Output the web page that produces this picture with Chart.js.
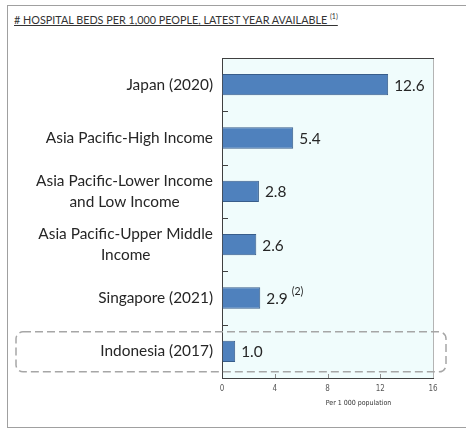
<!DOCTYPE html>
<html>
<head>
<meta charset="utf-8">
<script src="https://cdn.jsdelivr.net/npm/chart.js@4.4.1/dist/chart.umd.min.js"></script>
<style>
  html, body { margin: 0; padding: 0; background: #fff; }
  #wrap { position: relative; width: 466px; height: 428px; overflow: hidden; }
  #frame { position: absolute; left: 7px; top: 5px; width: 480px; height: 423px; border: 1px solid #a0a0a0; box-sizing: border-box; }
  #title { position: absolute; left: 14px; top: 12px; font: 10.8px Lato, sans-serif; color: #333; text-decoration: underline; white-space: nowrap; }
  #title sup { font-size: 7px; }
  canvas { position: absolute; left: 0; top: 0; }
</style>
</head>
<body>
<div id="wrap">
  <div id="frame"></div>
  <div id="title"># HOSPITAL BEDS PER 1,000 PEOPLE, LATEST YEAR AVAILABLE <sup>(1)</sup></div>
  <canvas id="myChart" width="466" height="428"></canvas>
</div>
<script>
// data
const categories = [
    ['Japan (2020)'],
    ['Asia Pacific-High Income'],
    ['Asia Pacific-Lower Income', 'and Low Income'],
    ['Asia Pacific-Upper Middle', 'Income'],
    ['Singapore (2021)'],
    ['Indonesia (2017)']
];
const bedsPer1000 = [12.6, 5.4, 2.8, 2.6, 2.9, 1.0];
const valueNotes = ['', '', '', '', '(2)', ''];
const xTicks = [0, 4, 8, 12, 16];
const xAxisTitle = 'Per 1 000 population';
const highlighted = 'Indonesia (2017)';

const labelFont = '15.4px Lato, sans-serif';
const narrowFont = 'Liberation Sans Narrow, DejaVu Sans Condensed, sans-serif';
const textColor = '#262626';

// light plot background + top/right border
const plotBackground = {
    id: 'plotBackground',
    beforeDraw(chart) {
        const { ctx, chartArea: a } = chart;
        ctx.save();
        ctx.fillStyle = '#F0FCFC';
        ctx.fillRect(a.left, a.top, a.right - a.left, a.bottom - a.top);
        ctx.restore();
    },
    afterDraw(chart) {
        const { ctx, chartArea: a } = chart;
        ctx.save();
        ctx.lineWidth = 1;
        ctx.strokeStyle = '#b4b4b4';
        ctx.beginPath();
        ctx.moveTo(a.right + 0.5, a.top);
        ctx.lineTo(a.right + 0.5, a.bottom);
        ctx.stroke();
        ctx.strokeStyle = '#404040';
        ctx.beginPath();
        ctx.moveTo(a.left, a.top + 0.5);
        ctx.lineTo(a.right + 1, a.top + 0.5);
        ctx.stroke();
        ctx.restore();
    }
};

// category labels: block right aligned, lines centred inside the block
const categoryLabels = {
    id: 'categoryLabels',
    afterDraw(chart) {
        const { ctx } = chart;
        const y = chart.scales.y;
        const lineH = 21;
        ctx.save();
        ctx.font = labelFont;
        ctx.fillStyle = textColor;
        ctx.textAlign = 'center';
        ctx.textBaseline = 'middle';
        categories.forEach((lines, i) => {
            const yc = y.getPixelForValue(i);
            const w = Math.max(...lines.map(l => ctx.measureText(l).width));
            const cx = y.right - 9 - w / 2;
            lines.forEach((l, j) => {
                ctx.fillText(l, cx, yc + (j - (lines.length - 1) / 2) * lineH);
            });
        });
        ctx.restore();
    }
};

// inward ticks, value labels, axis title and the dashed highlight box
const extras = {
    id: 'extras',
    afterDraw(chart) {
        const { ctx, chartArea } = chart;
        const x = chart.scales.x;
        const y = chart.scales.y;
        ctx.save();
        ctx.lineWidth = 1;
        ctx.strokeStyle = '#404040';
        for (let i = 1; i < categories.length; i++) {
            const yy = Math.round((y.getPixelForValue(i - 1) + y.getPixelForValue(i)) / 2) + 0.5;
            ctx.beginPath();
            ctx.moveTo(x.left, yy);
            ctx.lineTo(x.left + 6, yy);
            ctx.stroke();
        }
        ctx.strokeStyle = '#8c8c8c';
        xTicks.slice(1, -1).forEach(v => {
            const xx = Math.round(x.getPixelForValue(v)) + 0.5;
            ctx.beginPath();
            ctx.moveTo(xx, y.bottom);
            ctx.lineTo(xx, y.bottom - 4);
            ctx.stroke();
        });

        ctx.fillStyle = textColor;
        ctx.textBaseline = 'middle';
        ctx.textAlign = 'left';
        bedsPer1000.forEach((v, i) => {
            const px = x.getPixelForValue(v) + 6;
            const py = y.getPixelForValue(i) + 1;
            ctx.font = labelFont;
            const txt = v.toFixed(1);
            ctx.fillText(txt, px, py);
            if (valueNotes[i]) {
                const w = ctx.measureText(txt).width;
                ctx.font = '10.5px Lato, sans-serif';
                ctx.fillText(valueNotes[i], px + w + 4, py - 7);
            }
        });

        // axis title sits right of centre in the original
        ctx.font = '7px ' + narrowFont;
        ctx.fillStyle = '#333';
        ctx.textAlign = 'center';
        ctx.fillText(xAxisTitle, (chartArea.left + chartArea.right) / 2 + 31, chartArea.bottom + 25);

        const idx = categories.findIndex(c => c.join(' ') === highlighted);
        if (idx >= 0) {
            const yc = y.getPixelForValue(idx);
            ctx.strokeStyle = '#a6a6a6';
            ctx.lineWidth = 1.5;
            ctx.setLineDash([8, 4]);
            ctx.beginPath();
            ctx.roundRect(16, yc - 19.5, 430, 40, 7);
            ctx.stroke();
        }
        ctx.restore();
    }
};

const ctx = document.getElementById('myChart').getContext('2d');
const myChart = new Chart(ctx, {
    type: 'bar',
    data: {
        labels: categories,
        datasets: [{
            data: bedsPer1000,
            backgroundColor: '#4F81BD',
            borderColor: '#385D8A',
            borderWidth: 1,
            barPercentage: 0.4,
            categoryPercentage: 1
        }]
    },
    options: {
        indexAxis: 'y',
        responsive: false,
        animation: false,
        layout: { padding: { top: 58, right: 33, bottom: 0, left: 0 } },
        plugins: {
            legend: { display: false },
            tooltip: { enabled: false }
        },
        scales: {
            x: {
                min: xTicks[0],
                max: xTicks[xTicks.length - 1],
                afterBuildTicks: s => { s.ticks = xTicks.map(v => ({ value: v })); },
                grid: { drawOnChartArea: false, drawTicks: false },
                border: { color: '#404040' },
                ticks: {
                    padding: 6,
                    color: '#595959',
                    font: { family: narrowFont, size: 8 }
                },
                afterFit: s => { s.height = 50; }
            },
            y: {
                grid: { drawOnChartArea: false, drawTicks: false, offset: true },
                border: { color: '#404040' },
                ticks: { color: 'transparent' },
                afterFit: s => { s.width = 222; }
            }
        }
    },
    plugins: [plotBackground, categoryLabels, extras]
});
</script>
</body>
</html>
